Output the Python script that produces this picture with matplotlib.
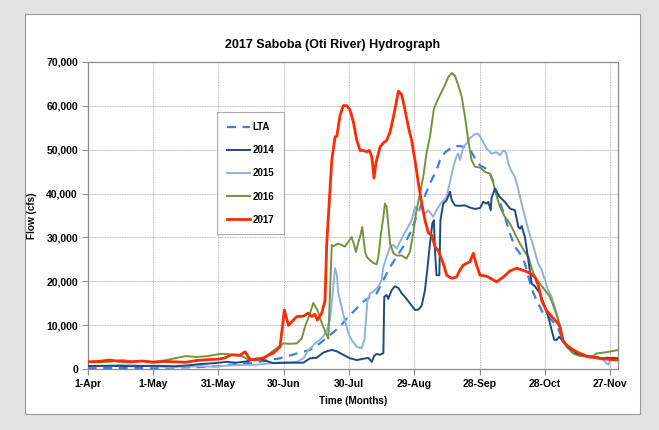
import matplotlib
matplotlib.use("Agg")
import matplotlib.pyplot as plt
from matplotlib.patches import Rectangle
from matplotlib.ticker import FuncFormatter

plt.rcParams['font.family'] = ['Liberation Sans', 'DejaVu Sans']
plt.rcParams['font.weight'] = 'bold'

# (days after 1-Apr, flow in cfs)
lta = [(0, 300), (10, 300), (20, 300), (30, 300), (40, 400), (50, 500), (60, 700), (65, 1000),
       (70, 1300), (76, 1500), (82, 2000), (88.3, 2500), (96, 3600), (102.1, 4400), (106.6, 5900),
       (111.3, 7800), (115.9, 9700), (119, 11600), (123.6, 13900), (126.6, 15400), (129.7, 16500),
       (132.7, 17300), (135.8, 20300), (138.9, 23300), (141.9, 25600), (144.9, 27900), (148, 30900),
       (151, 34700), (154.1, 38500), (157.2, 42300), (160.2, 45300), (161.8, 47600), (164, 49300),
       (166.4, 50200), (169, 50800), (171, 50800), (173.5, 50500), (175.6, 50000), (177.9, 48000),
       (180.2, 46400), (182.5, 45800), (184.8, 44500), (187, 41500), (189.3, 38100), (191.6, 34700),
       (193.9, 30900), (196.2, 27900), (198.5, 26400), (200.8, 24100), (202.4, 21000), (204.7, 17300),
       (206.9, 15000), (209.2, 12700), (211.5, 12000), (213.8, 10800), (216.1, 9300), (218.4, 6300),
       (221.5, 4400), (226.1, 3600), (230.7, 2900), (236.8, 2700), (243.7, 2300)]

y2014 = [(0, 750), (10, 800), (20, 700), (30, 800), (40, 700), (46, 900), (52, 1200), (58, 1400),
         (64, 1700), (68, 1500), (73, 1800), (77.7, 2500), (80.7, 2100), (85.3, 1400), (92, 1500),
         (99, 1500), (102.1, 2500), (105.1, 2600), (108.2, 3800), (110.5, 4200), (112.1, 4400),
         (114.4, 4100), (117.4, 3300), (120.5, 2500), (123.6, 2100), (126.6, 2400), (128.9, 2600),
         (130.5, 1700), (131.5, 3000), (132.7, 3500), (134.3, 3300), (135.8, 3700), (136.2, 16500),
         (137.3, 16900), (138, 16000), (139.6, 18000), (141.1, 18900), (142.7, 18500), (144.2, 17300),
         (145.7, 16500), (148, 15000), (150.3, 13500), (151.9, 13600), (153.4, 14500), (154.9, 18000),
         (156.1, 23300), (157.2, 28600), (158.3, 33200), (159, 33900), (159.5, 27000), (160.2, 21400),
         (161.5, 21400), (162, 33900), (163.3, 37700), (164.9, 38500), (166.4, 40400), (167.2, 38500),
         (168.7, 37300), (170.2, 37200), (173.3, 37300), (175.6, 36800), (177.9, 36500), (180.2, 36700),
         (181.7, 38100), (183.2, 37700), (184, 38100), (185.1, 36200), (185.5, 39000), (187, 41100),
         (189.3, 39200), (191.6, 38100), (193.9, 36600), (196.2, 36200), (197.8, 32400), (198.5, 32000),
         (199.3, 32600), (200.8, 30100), (202.4, 24800), (203.9, 19500), (205.4, 18900), (207.7, 17300),
         (210, 14200), (211.5, 12000), (213.1, 8900), (214.3, 6700), (215.4, 6700), (216.6, 7400),
         (218.4, 6300), (220.7, 5100), (224.6, 3600), (229.2, 3000), (235.3, 2500), (241.4, 2600),
         (243.7, 2500)]

y2015 = [(0, 700), (5, 700), (10, 800), (16, 1000), (22, 900), (28, 700), (33, 600), (38, 500),
         (45, 600), (52, 700), (58, 600), (63, 800), (70, 1000), (77, 1000), (80.7, 1200), (86.8, 1500),
         (92.9, 1600), (96, 1700), (99.1, 2500), (101.3, 4400), (102.9, 5000), (104.4, 5900),
         (106.6, 6700), (108.2, 7500), (109.8, 8900), (111.3, 11200), (112.5, 17300), (113.6, 23000),
         (114.4, 21600), (115.1, 17300), (116.6, 14200), (118.1, 11200), (119.7, 8200), (121.2, 6700),
         (123.6, 5100), (125.8, 4800), (127.1, 6700), (127.8, 11200), (128.5, 15700), (129.7, 17300),
         (131.2, 17700), (133.5, 18800), (135, 20300), (135.8, 23300), (137.3, 25600), (138.9, 27900),
         (140.4, 28300), (141.9, 27500), (143.4, 29000), (144.9, 30400), (146.4, 31700), (148.8, 33900),
         (150.3, 37000), (151.9, 36200), (153.4, 36500), (154.9, 35400), (156.5, 36200), (158.7, 34700),
         (160.2, 36200), (161.8, 37500), (164.8, 39200), (166.4, 42600), (167.9, 46000), (169.4, 48500),
         (170.2, 49100), (171, 47600), (172.5, 50600), (174.1, 51400), (175.6, 52600), (177.9, 53600),
         (179.4, 53600), (180.9, 52400), (183.2, 50200), (185.5, 49100), (187.8, 49400), (189.3, 48700),
         (190.9, 49800), (192.1, 49400), (193.2, 46800), (194.7, 45000), (196.2, 43800), (197.8, 40800),
         (199.3, 37700), (200.8, 34700), (202.4, 31700), (203.9, 29400), (205.4, 26700), (206.9, 24100),
         (208.5, 22600), (210, 20300), (211.5, 18000), (213.1, 16500), (215.4, 12700), (216.9, 9700),
         (218.4, 6700), (221.5, 4400), (226.1, 3600), (230.7, 2500), (233.7, 2600), (236.8, 2100),
         (239.1, 1000), (240.6, 2600), (243.7, 2300)]

y2016 = [(0, 1700), (5, 1600), (10, 1700), (16, 2100), (20, 1800), (25, 1900), (30, 1700), (35, 2000),
         (40, 2500), (45, 3000), (50, 2800), (55, 3000), (61, 3500), (64, 3500), (66, 3300), (70, 3100),
         (74.6, 2100), (77, 2000), (80.7, 2300), (83.8, 3700), (86.8, 4800), (89.9, 5900), (92.9, 5800),
         (96, 5900), (98.3, 7000), (99.8, 9700), (102.1, 12700), (103.6, 15100), (105.5, 13500),
         (107.5, 10500), (109.4, 8200), (110.5, 7000), (112.1, 28300), (112.8, 28000), (115.1, 28600),
         (116.6, 28300), (118.1, 27900), (119.7, 29000), (121.2, 30100), (122.3, 28500), (123.2, 26700),
         (124.3, 28900), (125.1, 30100), (126.1, 32400), (127.4, 26700), (128.2, 25600), (129.7, 24800),
         (131.2, 24200), (132.7, 23900), (133.5, 25600), (134.7, 30900), (135.8, 34700), (136.5, 37700),
         (137.3, 37000), (138, 33200), (138.9, 28600), (140.4, 26400), (141.9, 25900), (144.2, 25900),
         (146.4, 25200), (148, 26700), (149.5, 30900), (151, 36200), (152.6, 40000), (154.1, 43800),
         (155.6, 49100), (157.2, 52900), (159, 59300), (161, 61600), (162.5, 63100), (164, 64600),
         (165.6, 66500), (167.2, 67400), (168.7, 66800), (170.2, 64600), (171.8, 62000), (173.3, 57400),
         (174.8, 52100), (176.3, 47600), (177.9, 46100), (180.2, 45900), (182.5, 44900), (184.8, 44500),
         (186, 43000), (187.5, 40000), (189.3, 37000), (191.6, 34700), (193.9, 33200), (196.2, 30900),
         (198.5, 28600), (200.8, 26700), (202.4, 25600), (203.9, 23000), (205.4, 21000), (207.7, 19500),
         (210, 18000), (212.3, 16500), (214.6, 13500), (216.6, 10500), (218.1, 6700), (220, 5100),
         (223, 3600), (226.1, 3000), (229.2, 2900), (232.2, 3000), (233.7, 3600), (238.3, 3900),
         (243.7, 4400)]

y2017 = [(0, 1700), (5, 1800), (10, 2100), (15, 1800), (20, 1700), (25, 1900), (30, 1600), (35, 1800),
         (40, 1700), (45, 1600), (50, 2000), (55, 2200), (60, 2300), (63, 2600), (66, 3300), (70, 3200),
         (72.3, 4000), (74.6, 2200), (78, 2300), (80.7, 2600), (83, 3200), (85.3, 3700), (87, 4500),
         (88.3, 5100), (89.9, 11600), (90.3, 13500), (92.2, 10000), (96, 12000), (99.1, 12100),
         (101.3, 12800), (102.9, 12000), (104.4, 12500), (105.5, 11200), (107.5, 12800), (109, 15700),
         (109.8, 28700), (111, 38500), (112.1, 47600), (113.6, 52900), (114.4, 53000), (115.9, 57800),
         (117.4, 60000), (119, 60000), (120.5, 59000), (122, 56300), (123.6, 52100), (125.1, 49800),
         (126.6, 49800), (128.2, 49500), (129.4, 49800), (130.5, 48300), (131.5, 43500), (132.4, 47000),
         (134.3, 50600), (135.8, 51500), (137.3, 52100), (138.9, 54000), (140.4, 57400), (141.9, 61200),
         (142.7, 63300), (144.2, 62500), (145.3, 60100), (147.3, 55100), (148.8, 52000), (150.3, 47600),
         (151.9, 42300), (153.4, 37800), (154.9, 33900), (156.5, 31000), (158, 30500), (159.5, 27900),
         (161, 27000), (163.3, 24100), (164.9, 21400), (167.2, 20700), (169.4, 21000), (171, 22600),
         (172.5, 23700), (175.6, 24500), (177.1, 26400), (178.4, 24000), (180.2, 21400), (183.2, 21200),
         (187.8, 19900), (190.9, 21000), (194, 22400), (197, 23000), (200.1, 22500), (203.1, 21900),
         (205.4, 21000), (206.9, 19200), (208.5, 15700), (210.5, 13500), (213.1, 12000), (215.4, 10800),
         (216.9, 9700), (218.4, 6300), (220, 5500), (223, 4400), (226.1, 3600), (229.2, 3000),
         (233.7, 2600), (238.3, 2300), (243.7, 2100)]

tick_days = [0, 30, 60, 90, 120, 150, 180, 210, 240]
tick_labels = ['1-Apr', '1-May', '31-May', '30-Jun', '30-Jul', '29-Aug', '28-Sep', '28-Oct', '27-Nov']

fig = plt.figure(figsize=(6.59, 4.30), dpi=100)
fig.patch.set_facecolor('#e3e3e3')
panel = Rectangle((25 / 659, 16 / 430), 615 / 659, 400 / 430, transform=fig.transFigure,
                  facecolor='white', edgecolor='#9a9a9a', linewidth=0.8, zorder=-10)
fig.patches.append(panel)

ax = fig.add_axes([87.7 / 659, 1 - 369.3 / 430, (618.3 - 87.7) / 659, (369.3 - 61.7) / 430])
ax.set_zorder(1)
ax.set_facecolor('white')

def draw(series, **kw):
    xs = [p[0] for p in series]
    ys = [p[1] for p in series]
    ax.plot(xs, ys, **kw)

draw(lta, color='#3b7ee6', lw=1.6, ls=(0, (4, 3)), label='LTA', zorder=3)
draw(y2014, color='#1f4a7e', lw=1.4, label='2014', zorder=4)
draw(y2015, color='#8fb2de', lw=1.4, label='2015', zorder=3)
draw(y2016, color='#76923c', lw=1.4, label='2016', zorder=3)
draw(y2017, color='#ff2a00', lw=2.0, label='2017', zorder=5)

ax.set_xlim(0, 243.7)
ax.set_ylim(0, 70000)
ax.set_xticks(tick_days)
ax.set_xticklabels(tick_labels)
ax.set_yticks(range(0, 70001, 10000))
ax.yaxis.set_major_formatter(FuncFormatter(lambda v, p: f'{int(v):,}'))
ax.tick_params(labelsize=7.5, length=4, color='#8a8a8a', pad=3)
for s in ax.spines.values():
    s.set_color('#8a8a8a')
    s.set_linewidth(0.9)
ax.grid(True, color='#a0a0a0', ls=(0, (1, 1)), lw=0.6)
ax.set_axisbelow(True)

fig.text(333 / 659, 1 - 45 / 430, '2017 Saboba (Oti River) Hydrograph', fontsize=9,
         fontweight='bold', ha='center', va='center')
ax.set_xlabel('Time (Months)', fontsize=7.2, fontweight='bold', labelpad=5)
ax.set_ylabel('Flow (cfs)', fontsize=7.2, fontweight='bold', labelpad=7)

leg = ax.legend(loc='upper left', bbox_to_anchor=(0.244, 0.835), fontsize=7, frameon=True,
                fancybox=False, edgecolor='#9a9a9a', handlelength=2.4, handletextpad=0.2,
                labelspacing=1.35, borderpad=1.0, borderaxespad=0)
leg.get_frame().set_linewidth(0.8)

fig.savefig('out.png', dpi=100, facecolor=fig.get_facecolor())
